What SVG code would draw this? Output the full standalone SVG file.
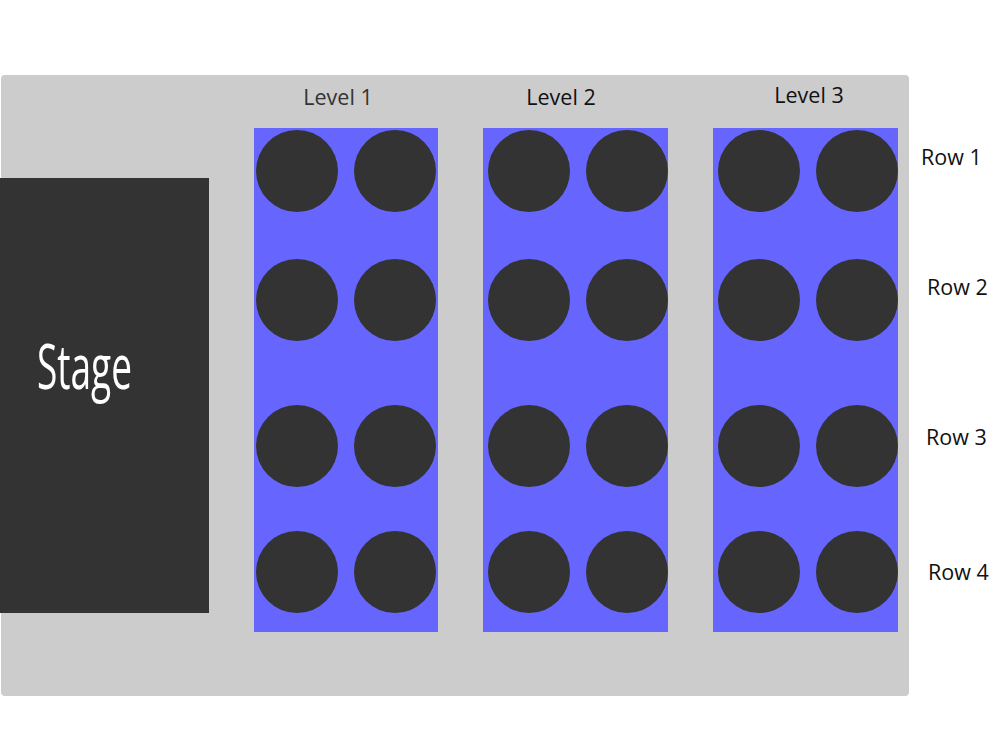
<svg xmlns="http://www.w3.org/2000/svg" width="1000" height="750" viewBox="0 0 1000 750">
<style>
.seat{fill:#333333}
.block{fill:#6666ff}
.lbl{font-family:"Open Sans","Liberation Sans",sans-serif;font-size:21.5px;fill:#111}
</style>
<rect width="1000" height="750" fill="#ffffff"/>
<g id="floor"><rect x="1" y="75" width="908" height="621" rx="4" fill="#cccccc"/></g>
<g id="stage">
<rect x="0" y="178" width="209" height="435" fill="#333333"/>
<text x="37" y="389" font-family="'Open Sans','Liberation Sans',sans-serif" font-size="63" fill="#ffffff" textLength="95" lengthAdjust="spacingAndGlyphs">Stage</text>
</g>
<g id="level1">
<rect class="block" x="254" y="128" width="184" height="504"/>
<circle class="seat" cx="297" cy="171" r="41"/><circle class="seat" cx="395" cy="171" r="41"/>
<circle class="seat" cx="297" cy="300" r="41"/><circle class="seat" cx="395" cy="300" r="41"/>
<circle class="seat" cx="297" cy="446" r="41"/><circle class="seat" cx="395" cy="446" r="41"/>
<circle class="seat" cx="297" cy="572" r="41"/><circle class="seat" cx="395" cy="572" r="41"/>
<text class="lbl" x="338" y="105" text-anchor="middle" style="fill:#333">Level 1</text>
</g>
<g id="level2">
<rect class="block" x="483" y="128" width="185" height="504"/>
<circle class="seat" cx="529" cy="171" r="41"/><circle class="seat" cx="627" cy="171" r="41"/>
<circle class="seat" cx="529" cy="300" r="41"/><circle class="seat" cx="627" cy="300" r="41"/>
<circle class="seat" cx="529" cy="446" r="41"/><circle class="seat" cx="627" cy="446" r="41"/>
<circle class="seat" cx="529" cy="572" r="41"/><circle class="seat" cx="627" cy="572" r="41"/>
<text class="lbl" x="561" y="105" text-anchor="middle">Level 2</text>
</g>
<g id="level3">
<rect class="block" x="713" y="128" width="185" height="504"/>
<circle class="seat" cx="759" cy="171" r="41"/><circle class="seat" cx="857" cy="171" r="41"/>
<circle class="seat" cx="759" cy="300" r="41"/><circle class="seat" cx="857" cy="300" r="41"/>
<circle class="seat" cx="759" cy="446" r="41"/><circle class="seat" cx="857" cy="446" r="41"/>
<circle class="seat" cx="759" cy="572" r="41"/><circle class="seat" cx="857" cy="572" r="41"/>
<text class="lbl" x="809" y="103" text-anchor="middle">Level 3</text>
</g>
<g id="rows">
<text class="lbl" x="921" y="165">Row 1</text>
<text class="lbl" x="927" y="295">Row 2</text>
<text class="lbl" x="926" y="445">Row 3</text>
<text class="lbl" x="928" y="580">Row 4</text>
</g>
<g id="connectors"></g>
</svg>
